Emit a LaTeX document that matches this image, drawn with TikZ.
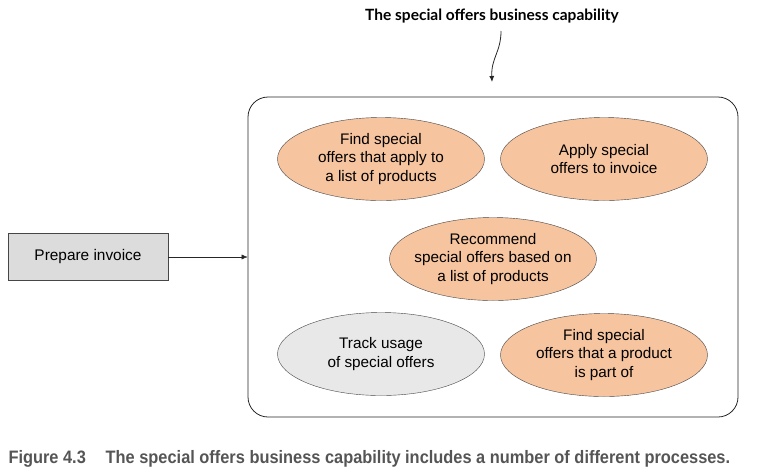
\documentclass[tikz,border=0pt]{standalone}
\usepackage{xcolor}
\usepackage{fontspec}
\usepackage{tikz}
\usetikzlibrary{arrows.meta,positioning,shapes.geometric}
\setmainfont{Liberation Sans}
\newfontfamily\titlefont{Lato}
\newfontfamily\capfont[FakeStretch=0.91]{Liberation Sans}
\definecolor{offerorange}{RGB}{246,196,158}
\definecolor{trackgray}{RGB}{232,232,232}
\definecolor{prepgray}{RGB}{220,220,220}
\definecolor{edgegray}{RGB}{70,70,70}
\definecolor{captiongray}{RGB}{85,85,85}

\begin{document}
\begin{tikzpicture}[
  x=1pt, y=-1pt,
  proc/.style={ellipse, draw=edgegray, fill=offerorange, align=center, inner sep=0pt,
    minimum width=207pt, minimum height=83pt, font=\fontsize{15.3}{18.5}\selectfont},
  idle/.style={proc, fill=trackgray},
  caller/.style={draw=edgegray, fill=prepgray, align=center, minimum width=160pt,
    minimum height=47pt, font=\fontsize{15.4}{18}\selectfont},
  arr/.style={-{Latex[length=6pt,width=5pt]}, thick, draw=black!85}
]
\useasboundingbox (0,0) rectangle (760,475);

% capability boundary
\node[draw=black!85, thick, rounded corners=20pt, minimum width=490pt, minimum height=320pt,
  inner sep=0pt] (capability) at (493,257) {};
\node[font=\titlefont\bfseries\fontsize{15.5}{18}\selectfont] (title) at (492,16)
  {The special offers business capability};

\coordinate (pointerstart) at (501,31);
\coordinate (pointer) at (492,82);
\draw[arr] (pointerstart) .. controls (501,52) and (491,58) .. (pointer);

% processes
\node[proc] (findlist) at (381,159) {Find special\\offers that apply to\\a list of products};
\node[proc] (apply) at (604,159) {Apply special\\offers to invoice};
\node[proc, inner xsep=-7pt] (recommend) at (493,259) {Recommend\\special offers based on\\a list of products};
\node[idle] (track) at (381,354) {Track usage\\of special offers};
\node[proc] (findproduct) at (604,355) {Find special\\offers that a product\\is part of};

% caller
\node[caller] (prepare) at (88,257) {Prepare invoice};
\draw[arr, thin] (prepare) -- (prepare -| capability.west);

\node[anchor=west, text=captiongray, font=\capfont\bfseries\fontsize{18}{20}\selectfont]
  (caption) at (5,459) {Figure 4.3\hspace{1.1em}The special offers business capability includes a number of different processes.};
\end{tikzpicture}
\end{document}
